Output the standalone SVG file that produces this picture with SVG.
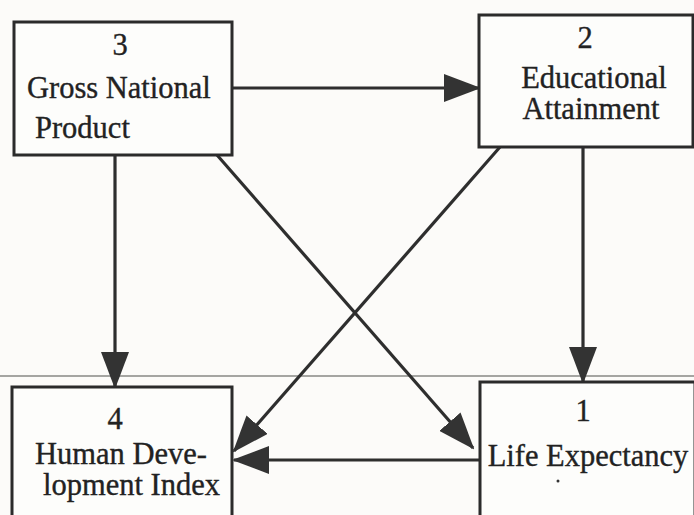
<svg xmlns="http://www.w3.org/2000/svg" width="694" height="515" viewBox="0 0 694 515">
<style>
.box{fill:#fdfdfb;stroke:#2b2b2b;stroke-width:3}
.t{font-family:"Liberation Serif","Times New Roman",serif;font-size:30.5px;fill:#222;stroke:#222;stroke-width:0.35}
.c{text-anchor:middle}
.edge{stroke:#2e2e2e;stroke-width:3.2;fill:none;marker-end:url(#arr)}
</style>
<defs>
<marker id="arr" markerUnits="userSpaceOnUse" markerWidth="37" markerHeight="28" refX="35" refY="14" orient="auto">
<path d="M0,0 L37,14 L0,28 z" fill="#333"/>
</marker>
</defs>
<rect x="0" y="0" width="694" height="515" fill="#fcfbf9"/>
<line x1="0" y1="376" x2="694" y2="376" stroke="#a5a5a2" stroke-width="2"/>
<g id="connectors">
<line class="edge" x1="232" y1="88" x2="479" y2="88"/>
<line class="edge" x1="115" y1="155" x2="115" y2="387"/>
<line class="edge" x1="217" y1="155" x2="473" y2="448"/>
<line class="edge" x1="500" y1="147" x2="234" y2="451"/>
<line class="edge" x1="583" y1="147" x2="583" y2="382"/>
<line class="edge" x1="480" y1="460" x2="234" y2="460"/>
</g>
<g id="node3">
<rect class="box" x="14" y="22" width="218" height="133"/>
<text class="t c" x="120" y="55">3</text>
<text class="t" x="27" y="98">Gross National</text>
<text class="t" x="35" y="138">Product</text>
</g>
<g id="node2">
<rect class="box" x="479" y="15" width="214" height="132"/>
<text class="t c" x="585" y="48">2</text>
<text class="t c" x="594" y="88">Educational</text>
<text class="t c" x="591" y="119">Attainment</text>
</g>
<g id="node4">
<rect class="box" x="12" y="387" width="220" height="140"/>
<text class="t c" x="115" y="429">4</text>
<text class="t" x="35" y="464">Human Deve-</text>
<text class="t" x="43" y="495">lopment Index</text>
</g>
<g id="node1">
<rect class="box" x="480" y="382" width="215" height="145"/>
<text class="t c" x="583" y="421">1</text>
<text class="t c" x="588" y="466">Life Expectancy</text>
<circle cx="558" cy="481" r="1.5" fill="#333"/>
</g>
</svg>
